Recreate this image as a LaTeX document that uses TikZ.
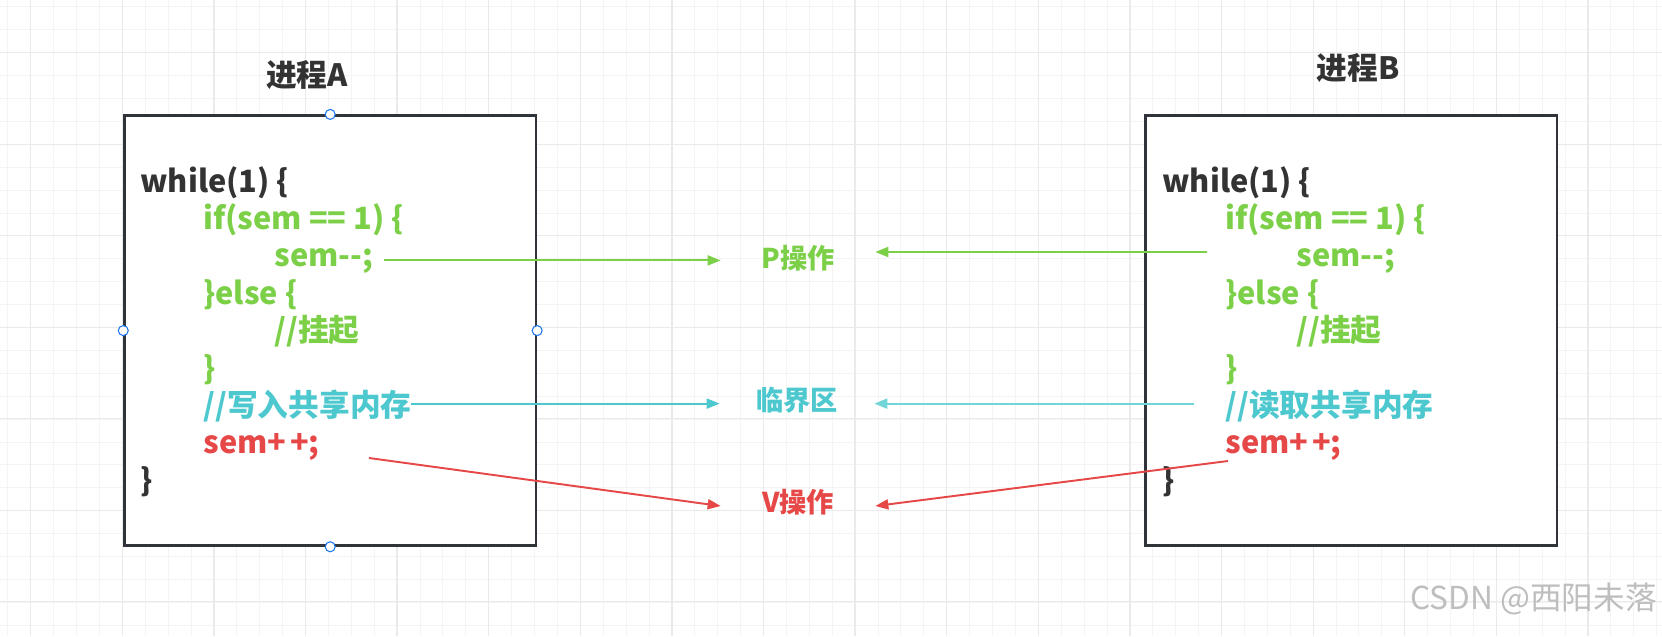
\documentclass[tikz,border=0pt]{standalone}
\usepackage{fontspec}
\setmainfont{Noto Sans CJK SC}
\usetikzlibrary{arrows.meta}

\definecolor{codegreen}{RGB}{124,208,72}
\definecolor{codecyan}{RGB}{76,200,206}
\definecolor{lightcyan}{RGB}{114,214,217}
\definecolor{codered}{RGB}{230,72,72}
\definecolor{codegray}{RGB}{51,51,51}
\definecolor{boxline}{RGB}{48,52,58}
\definecolor{handleblue}{RGB}{28,118,238}
\definecolor{gridminor}{RGB}{244,244,244}
\definecolor{gridmajor}{RGB}{234,234,234}
\definecolor{markgray}{RGB}{190,190,190}

\begin{document}
\begin{tikzpicture}[
                        x=0.02cm, y=-0.02cm,
                        every node/.style={
                                font=\fontsize{17.5}{20}\selectfont\bfseries,
                                text height=0.85em,
                                text depth=0.15em,
                                inner sep=0pt,
                            },
                        procbox/.style={draw=boxline, line width=1.4pt, fill=white,
                                minimum width=8.23cm, minimum height=8.6cm},
                        oplabel/.style={minimum width=3.08cm, font=\fontsize{15.5}{18}\selectfont\bfseries},
                        flow/.style={line width=1.1pt, -{Triangle[length=0.26cm,width=0.2cm]}},
                    ]

                    \useasboundingbox (0,0) rectangle (1662,636);
                    \fill[white] (0,0) rectangle (1662,636);

                    % grid
                    \foreach \k in {0,1,...,72}{
                            \draw[gridminor, line width=0.5pt] ({7.8+22.9*\k},0) -- ({7.8+22.9*\k},636);
                        }
                    \foreach \k in {0,1,...,27}{
                            \draw[gridminor, line width=0.5pt] (0,{6.9+22.9*\k}) -- (1662,{6.9+22.9*\k});
                        }
                    \foreach \k in {0,1,...,18}{
                            \draw[gridmajor, line width=0.7pt] ({30.7+91.6*\k},0) -- ({30.7+91.6*\k},636);
                        }
                    \foreach \k in {0,1,...,6}{
                            \draw[gridmajor, line width=0.7pt] (0,{52.7+91.5*\k}) -- (1662,{52.7+91.5*\k});
                        }

                    \node[procbox] (boxA) at (330.2,330.6) {};
                    \node[procbox] (boxB) at (1351.2,330.6) {};

                    \node[text=codegray] (titleA) at (307,80) {进程A};
                    \node[text=codegray] (titleB) at (1358,73) {进程B};

                    % code lines
                    \foreach \p/\dx/\note in {A/0/写入共享内存, B/1022/读取共享内存}{
                            \foreach \ind/\col/\txt [count=\i] in {
                                        140/codegray/{while(1) \{},
                                        203/codegreen/{if(sem == 1) \{},
                                        274/codegreen/{sem-{}-;},
                                        203/codegreen/{\}else \{},
                                        274/codegreen/{//挂起},
                                        203/codegreen/{\}},
                                        203/codecyan/{//\note},
                                        203/codered/{sem+\kern0.12em+;},
                                        140/codegray/{\}}}{
                                    \node[anchor=west, text=\col] (\p\i) at ({\ind+\dx},{186+37.4*(\i-1)}) {\txt};
                                }
                        }

                    \node[oplabel, text=codegreen] (P) at (798,262) {P操作};
                    \node[oplabel, text=codecyan] (crit) at (797,404) {临界区};
                    \node[oplabel, text=codered] (V) at (798,506) {V操作};

                    \coordinate (pA) at (384,260.4);
                    \coordinate (pB) at (1207,252);
                    \coordinate (cA) at (411,403.6);
                    \coordinate (cB) at (1194,403.6);
                    \coordinate (vA) at (369,458);
                    \coordinate (vB) at (1228,461);

                    \draw[flow, codegreen] (pA) -- (pA -| P.west);
                    \draw[flow, codegreen] (pB) -- (pB -| P.east);
                    \draw[flow, codecyan] (cA) -- (cA -| crit.west);
                    \draw[flow, lightcyan] (cB) -- (cB -| crit.east);
                    \draw[flow, codered] (vA) -- (V.west);
                    \draw[flow, codered] (vB) -- (V.east);

                    % selection handles
                    \foreach \a in {north,south,east,west}{
                            \filldraw[draw=handleblue, fill=white, line width=0.6pt] (boxA.\a) circle[radius=0.1cm];
                        }

                    \node[anchor=east, font=\fontsize{18}{20}\selectfont, text=markgray] (mark) at (1657,603) {CSDN @西阳未落};
                \end{tikzpicture}
\end{document}
